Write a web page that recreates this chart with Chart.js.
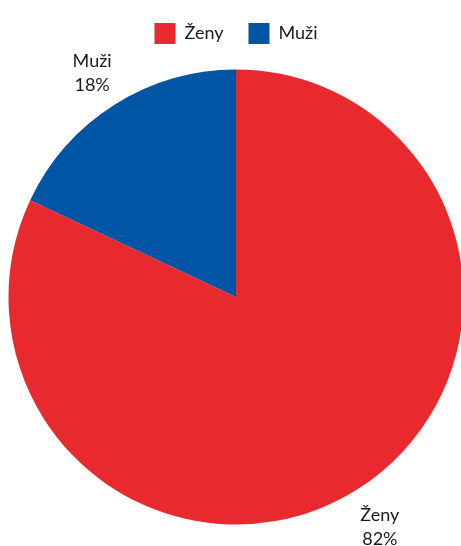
<!DOCTYPE html>
<html>
<head>
<meta charset="utf-8">
<script src="https://cdn.jsdelivr.net/npm/chart.js@4.4.0/dist/chart.umd.min.js"></script>
<style>
  html, body { margin: 0; padding: 0; background: #fff; overflow: hidden; }
  #chartContainer { position: relative; width: 472px; height: 556px; margin-top: -7px; }
</style>
</head>
<body>
<div id="chartContainer">
  <canvas id="pieChart"></canvas>
</div>
<script>
const kategorie = ['Ženy', 'Muži'];
const hodnoty = [82, 18];
const barvy = ['#E8292E', '#0056A4'];

// Popisky mimo výseče: název a procento pod sebou
const popiskyVenku = {
    id: 'popiskyVenku',
    afterDraw(chart) {
        const ctx = chart.ctx;
        const meta = chart.getDatasetMeta(0);
        ctx.save();
        ctx.font = '18px Lato';
        ctx.fillStyle = '#1a1a1a';
        ctx.textAlign = 'center';
        ctx.textBaseline = 'middle';
        meta.data.forEach((arc, i) => {
            const uhel = (arc.startAngle + arc.endAngle) / 2;
            const vzdalenost = arc.outerRadius + 41;
            const x = arc.x + Math.cos(uhel) * vzdalenost;
            const y = arc.y + Math.sin(uhel) * vzdalenost + 3;
            ctx.fillText(kategorie[i], x, y - 12);
            ctx.fillText(hodnoty[i] + '%', x, y + 12);
        });
        ctx.restore();
    }
};

const ctx = document.getElementById('pieChart').getContext('2d');
const graf = new Chart(ctx, {
    type: 'pie',
    data: {
        labels: kategorie,
        datasets: [{
            data: hodnoty,
            backgroundColor: barvy,
            borderWidth: 0,
            radius: 227.5
        }]
    },
    options: {
        responsive: true,
        maintainAspectRatio: false,
        animation: false,
        layout: {
            padding: { left: 8, right: 8, top: 5, bottom: 9 }
        },
        plugins: {
            legend: {
                position: 'top',
                labels: {
                    boxWidth: 21,
                    boxHeight: 21,
                    padding: 25,
                    color: '#1a1a1a',
                    font: { family: 'Lato', size: 18 }
                }
            },
            tooltip: { enabled: false }
        }
    },
    plugins: [popiskyVenku]
});
</script>
</body>
</html>
